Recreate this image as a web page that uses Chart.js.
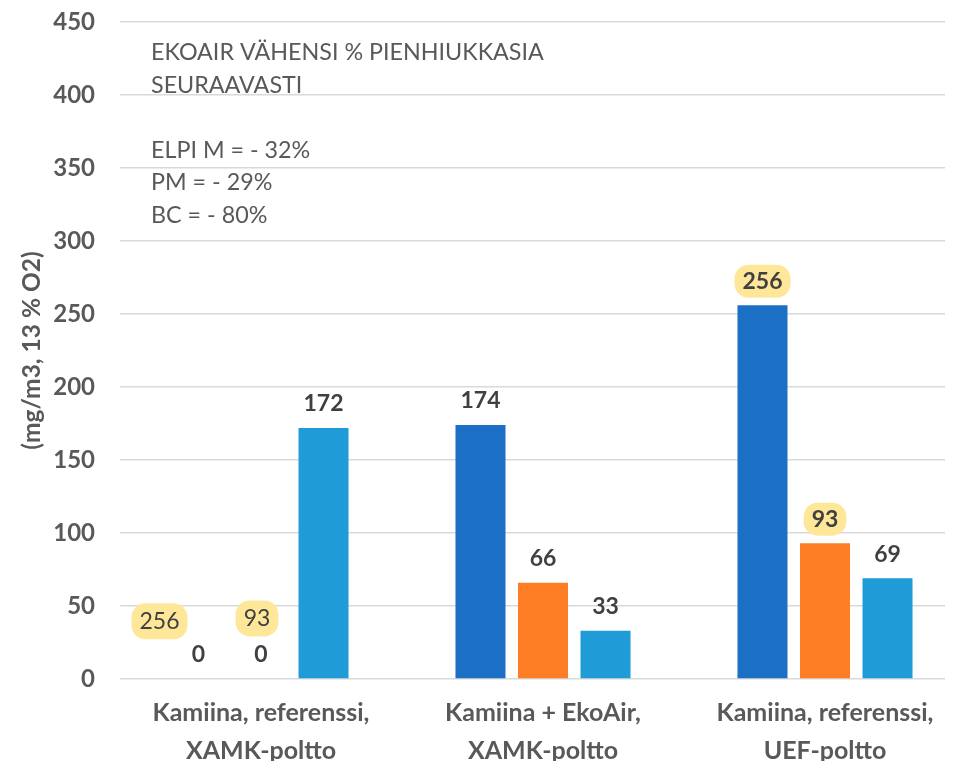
<!DOCTYPE html>
<html>
<head>
<meta charset="utf-8">
<script src="https://cdn.jsdelivr.net/npm/chart.js@4"></script>
<style>
  body { margin: 0; background: #fff; overflow: hidden; }
  #wrap { width: 960px; height: 761px; }
</style>
</head>
<body>
<div id="wrap"><canvas id="pmChart" width="960" height="761"></canvas></div>
<script>
// data
const categories = [
    ['Kamiina, referenssi,', 'XAMK-poltto'],
    ['Kamiina + EkoAir,', 'XAMK-poltto'],
    ['Kamiina, referenssi,', 'UEF-poltto']
];
const seriesNames = ['ELPI M', 'PM', 'BC'];
const elpiValues = [0, 174, 256];
const pmValues = [0, 66, 93];
const bcValues = [172, 33, 69];
const yMin = 0, yMax = 450, yStep = 50;
const yTitle = '(mg/m3, 13 % O2)';
const noteLines = ['EKOAIR VÄHENSI % PIENHIUKKASIA', 'SEURAAVASTI', '', 'ELPI M = - 32%', 'PM = - 29%', 'BC = - 80%'];
// labels with the yellow marker: [dataset, category]
const markedLabels = [[0, 2], [1, 2]];
// loose marked numbers sitting in the first group: text, dataset bar it hangs on, value height
const strayNotes = [
    { text: '256', ds: 0, idx: 0, dx: -39, value: 39.5 },
    { text: '93', ds: 1, idx: 0, dx: -4, value: 41.5 }
];

const FONT = 'Lato, "Open Sans", sans-serif';
const colors = ['#1B6FC4', '#FD7E25', '#1F9CD8'];

const valueLabels = {
    id: 'valueLabels',
    afterDatasetsDraw(chart) {
        const ctx = chart.ctx;
        ctx.save();
        ctx.textAlign = 'center';
        ctx.textBaseline = 'middle';
        chart.data.datasets.forEach((ds, i) => {
            chart.getDatasetMeta(i).data.forEach((bar, j) => {
                const txt = String(ds.data[j]);
                const y = bar.y - 24;
                ctx.font = 'bold 23px ' + FONT;
                if (markedLabels.some(m => m[0] === i && m[1] === j)) {
                    const w = ctx.measureText(txt).width + 16;
                    ctx.fillStyle = '#FFE799';
                    ctx.beginPath();
                    ctx.roundRect(bar.x - w / 2, y - 16.5, w, 33, 14);
                    ctx.fill();
                }
                ctx.fillStyle = '#404040';
                ctx.fillText(txt, bar.x, y);
            });
        });
        strayNotes.forEach(n => {
            const bar = chart.getDatasetMeta(n.ds).data[n.idx];
            const x = bar.x + n.dx;
            const y = chart.scales.y.getPixelForValue(n.value);
            ctx.font = '23px ' + FONT;
            const w = ctx.measureText(n.text).width + 16;
            ctx.fillStyle = '#FFE799';
            ctx.beginPath();
            ctx.roundRect(x - w / 2, y - 18, w, 36, 14);
            ctx.fill();
            ctx.fillStyle = '#404040';
            ctx.fillText(n.text, x, y);
        });
        // note text in the upper left
        ctx.textAlign = 'left';
        ctx.textBaseline = 'alphabetic';
        ctx.font = '23.3px ' + FONT;
        ctx.fillStyle = '#595959';
        noteLines.forEach((line, k) => {
            ctx.fillText(line, chart.chartArea.left + 31, 60 + k * 32.6);
        });
        ctx.restore();
    }
};

// the categories run a little past the right end of the gridlines, like in the original
const widenX = {
    id: 'widenX',
    afterLayout(chart) {
        const x = chart.scales.x;
        x.right = x.left + 846;
        x.width = 846;
        x.configure();
    }
};

const ctx = document.getElementById('pmChart').getContext('2d');
new Chart(ctx, {
    type: 'bar',
    data: {
        labels: categories,
        datasets: [
            { label: seriesNames[0], data: elpiValues, backgroundColor: colors[0] },
            { label: seriesNames[1], data: pmValues, backgroundColor: colors[1] },
            { label: seriesNames[2], data: bcValues, backgroundColor: colors[2] }
        ]
    },
    options: {
        responsive: false,
        animation: false,
        barPercentage: 0.8,
        categoryPercentage: 0.665,
        layout: { padding: { top: 22, right: 15, bottom: 0, left: 0 } },
        plugins: {
            legend: { display: false },
            tooltip: { enabled: false }
        },
        scales: {
            x: {
                grid: { display: false },
                border: { display: false },
                ticks: {
                    color: '#595959',
                    font: { family: FONT, size: 25, weight: 'bold', lineHeight: 1.52 },
                    padding: 7,
                    autoSkip: false,
                    maxRotation: 0
                },
                afterFit(scale) { scale.height = 82; }
            },
            y: {
                min: yMin,
                max: yMax,
                grid: { color: '#D9D9D9', lineWidth: 1.5, drawTicks: false },
                border: { display: false },
                ticks: {
                    stepSize: yStep,
                    color: '#595959',
                    font: { family: FONT, size: 24, weight: 'bold' },
                    padding: 25
                },
                title: {
                    display: true,
                    text: yTitle,
                    color: '#595959',
                    font: { family: FONT, size: 24.5, weight: 'bold' },
                    padding: { top: 17, bottom: 0 }
                },
                afterFit(scale) {
                    scale.width = 120;
                    scale.paddingTop = 0;
                    scale.paddingBottom = 0;
                }
            }
        }
    },
    plugins: [widenX, valueLabels]
});
</script>
</body>
</html>
